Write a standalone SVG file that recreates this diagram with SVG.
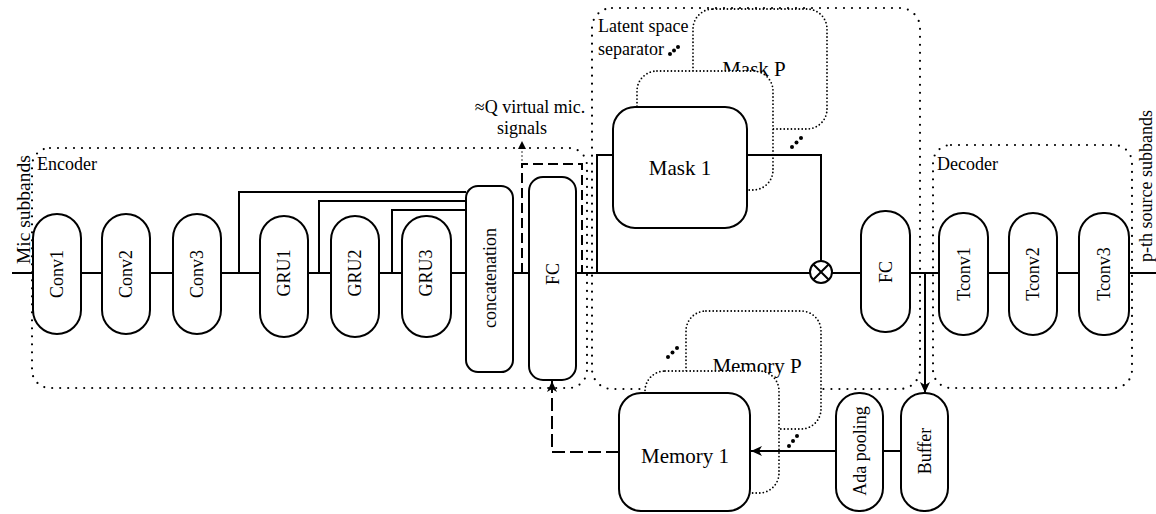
<svg xmlns="http://www.w3.org/2000/svg" width="1156" height="514" viewBox="0 0 1156 514">
<style>
text{font-family:"Liberation Serif","Times New Roman",serif;fill:#000}
.lbl{font-size:18px;text-anchor:middle;dominant-baseline:central}
.big{font-size:21px;text-anchor:middle;dominant-baseline:central}
.cap{font-size:18px}
.node{fill:#fff;stroke:#000;stroke-width:2}
.outer{fill:none;stroke:#000;stroke-width:2.2;stroke-dasharray:0 8;stroke-linecap:round}
.ghost{fill:#fff;stroke:#000;stroke-width:1.8;stroke-dasharray:0 3.6;stroke-linecap:round}
.ln{fill:none;stroke:#000;stroke-width:2}
.dash{fill:none;stroke:#000;stroke-width:2;stroke-dasharray:10 5}
.dot{fill:#000}
</style>
<defs>
<marker id="arr" markerUnits="userSpaceOnUse" markerWidth="12" markerHeight="10" refX="11" refY="5" orient="auto"><path d="M0,0 L11,5 L0,10 L3,5 z" fill="#000"/></marker>
<marker id="arrs" markerUnits="userSpaceOnUse" markerWidth="9" markerHeight="8" refX="8" refY="4" orient="auto"><path d="M0,0 L8,4 L0,8 z" fill="#000"/></marker>
</defs>

<g id="encoder-box">
<rect class="outer" x="32" y="148" width="555" height="240" rx="18"/>
<text class="cap" x="37" y="170">Encoder</text>
</g>
<g id="separator-box">
<rect class="outer" x="592" y="8" width="328" height="381" rx="20"/>
<text class="cap" x="598" y="32">Latent space</text>
<text class="cap" x="598" y="55">separator</text>
<circle class="dot" cx="670" cy="54" r="2"/><circle class="dot" cx="674" cy="50.5" r="2"/><circle class="dot" cx="678" cy="47" r="2"/>
</g>
<g id="decoder-box">
<rect class="outer" x="933" y="145" width="199" height="243" rx="18"/>
<text class="cap" x="937" y="170">Decoder</text>
</g>

<g id="mask-p">
<rect class="ghost" x="693" y="9" width="134" height="120" rx="20"/>
<text class="big" x="754" y="69">Mask P</text>
</g>
<g id="mask-mid">
<rect class="ghost" x="637" y="71" width="136" height="119" rx="20"/>
</g>
<g id="memory-p">
<rect class="ghost" x="686" y="311" width="135" height="118" rx="20"/>
<text class="big" x="757" y="366">Memory P</text>
</g>
<g id="memory-mid">
<rect class="ghost" x="645" y="371" width="134" height="122" rx="20"/>
</g>

<g id="connectors">
<path class="ln" d="M12,273 H810 M832,273 H1156"/>
<path class="ln" d="M239,273 V192 H466 M319,273 V201 H466 M392,273 V210 H466"/>
<path class="dash" d="M522,273 V164 H582 V273"/>
<path d="M522,164 V141" fill="none" stroke="#000" stroke-width="1.5" stroke-dasharray="0 4" stroke-linecap="round" marker-end="url(#arrs)"/>
<path class="ln" d="M597,273 V155 H613 M747,155 H821 V261"/>
<path class="ln" d="M925,273 V393" marker-end="url(#arr)"/>
<path class="ln" d="M901,451 H883"/>
<path class="ln" d="M836,451 H751" marker-end="url(#arr)"/>
<path fill="none" stroke="#000" stroke-width="2" stroke-dasharray="13 5" d="M619,452 H552 V381" marker-end="url(#arr)"/>
<circle class="dot" cx="792" cy="147" r="2"/><circle class="dot" cx="796.5" cy="142.5" r="2"/><circle class="dot" cx="801" cy="138" r="2"/>
<circle class="dot" cx="668" cy="357" r="2"/><circle class="dot" cx="672.5" cy="352.5" r="2"/><circle class="dot" cx="677" cy="348" r="2"/>
<circle class="dot" cx="789" cy="446" r="2"/><circle class="dot" cx="793" cy="441" r="2"/><circle class="dot" cx="797" cy="436" r="2"/>
</g>

<g id="labels">
<text x="0" y="0" font-size="19.5" transform="translate(30,264) rotate(-90)">Mic subbands</text>
<text class="cap" x="0" y="0" transform="translate(1152,262) rotate(-90)">p-th source subbands</text>
<text class="cap" x="530" y="113" text-anchor="middle">≈Q virtual mic.</text>
<text class="cap" x="522" y="134" text-anchor="middle">signals</text>
</g>

<g id="conv1"><rect class="node" x="33" y="214" width="48" height="120" rx="24"/><text class="lbl" transform="translate(57,274) rotate(-90)">Conv1</text></g>
<g id="conv2"><rect class="node" x="102" y="214" width="48" height="120" rx="24"/><text class="lbl" transform="translate(126,274) rotate(-90)">Conv2</text></g>
<g id="conv3"><rect class="node" x="173" y="214" width="48" height="120" rx="24"/><text class="lbl" transform="translate(197,274) rotate(-90)">Conv3</text></g>
<g id="gru1"><rect class="node" x="260" y="216" width="48" height="121" rx="24"/><text class="lbl" transform="translate(284,273) rotate(-90)">GRU1</text></g>
<g id="gru2"><rect class="node" x="331" y="216" width="48" height="121" rx="24"/><text class="lbl" transform="translate(355,273) rotate(-90)">GRU2</text></g>
<g id="gru3"><rect class="node" x="402" y="216" width="49" height="121" rx="24"/><text class="lbl" transform="translate(426,273) rotate(-90)">GRU3</text></g>
<g id="concat"><rect class="node" x="466" y="186" width="47" height="186" rx="12"/><text class="lbl" transform="translate(489.5,278) rotate(-90)">concatenation</text></g>
<g id="fc1"><rect class="node" x="529" y="177" width="47" height="203" rx="14"/><text class="lbl" transform="translate(552.5,274) rotate(-90)">FC</text></g>
<g id="mask1"><rect class="node" x="613" y="107" width="134" height="121" rx="22"/><text class="big" x="680" y="168">Mask 1</text></g>
<g id="mult"><circle class="node" cx="821" cy="272" r="11"/><path class="ln" d="M813.2,264.2 L828.8,279.8 M828.8,264.2 L813.2,279.8"/></g>
<g id="fc2"><rect class="node" x="861" y="211" width="49" height="121" rx="24"/><text class="lbl" transform="translate(885.5,272) rotate(-90)">FC</text></g>
<g id="tconv1"><rect class="node" x="939" y="213" width="49" height="122" rx="24"/><text class="lbl" transform="translate(963.5,274) rotate(-90)">Tconv1</text></g>
<g id="tconv2"><rect class="node" x="1009" y="213" width="48" height="122" rx="24"/><text class="lbl" transform="translate(1033,274) rotate(-90)">Tconv2</text></g>
<g id="tconv3"><rect class="node" x="1079" y="213" width="50" height="122" rx="24"/><text class="lbl" transform="translate(1104,274) rotate(-90)">Tconv3</text></g>
<g id="memory1"><rect class="node" x="619" y="393" width="131" height="118" rx="22"/><text class="big" x="685" y="456">Memory 1</text></g>
<g id="ada"><rect class="node" x="836" y="393" width="47" height="118" rx="23"/><text class="lbl" transform="translate(859.5,451) rotate(-90)">Ada pooling</text></g>
<g id="buffer"><rect class="node" x="901" y="393" width="47" height="118" rx="23"/><text class="lbl" transform="translate(924.5,451) rotate(-90)">Buffer</text></g>
</svg>
